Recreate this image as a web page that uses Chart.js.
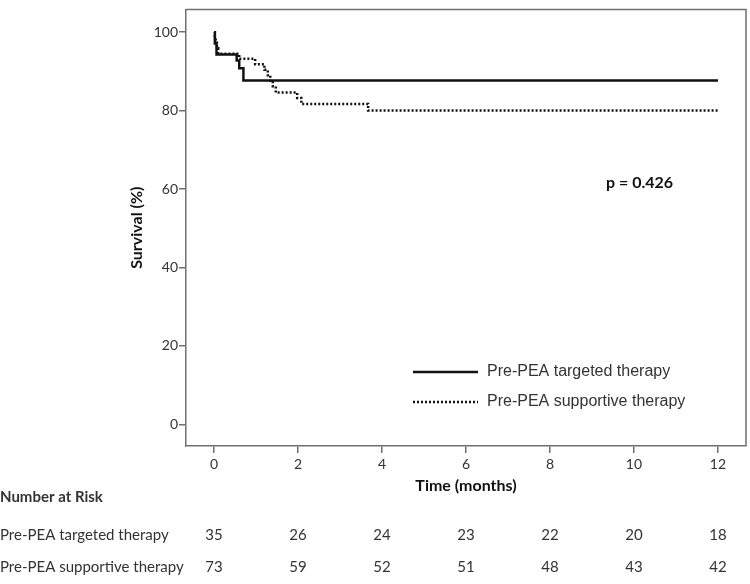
<!DOCTYPE html>
<html>
<head>
<meta charset="utf-8">
<script src="https://cdn.jsdelivr.net/npm/chart.js@4.4.1/dist/chart.umd.min.js"></script>
<style>
  html, body { margin: 0; padding: 0; background: #fff; }
  #wrap { width: 750px; height: 584px; }
</style>
</head>
<body>
<div id="wrap"><canvas id="km"></canvas></div>
<script>
// Kaplan-Meier steps (time in months, survival in %)
const targetedTimes = [0, 0.02, 0.06, 0.54, 0.6, 0.7, 12];
const targetedSurv  = [100, 97.1, 94.3, 92.8, 90.8, 87.7, 87.7];

const supportiveTimes = [0, 0.02, 0.04, 0.07, 0.1, 0.6, 0.98, 1.2, 1.28, 1.34, 1.4, 1.47, 1.98, 2.08, 3.67, 12];
const supportiveSurv  = [100, 98.6, 97.3, 95.9, 94.5, 93.2, 91.8, 90.4, 89.0, 87.6, 86.2, 84.6, 83.2, 81.7, 80.0, 80.0];

const xTicks = [0, 2, 4, 6, 8, 10, 12];
const yTicks = [0, 20, 40, 60, 80, 100];

const riskLabels = ['Pre-PEA targeted therapy', 'Pre-PEA supportive therapy'];
const riskTargeted   = [35, 26, 24, 23, 22, 20, 18];
const riskSupportive = [73, 59, 52, 51, 48, 43, 42];

const pValue = 'p = 0.426';

const toPoints = (xs, ys) => xs.map((x, i) => ({ x: x, y: ys[i] }));

const AXIS_COLOR = '#707070';
const TEXT_COLOR = '#333';
const FONT = 'Lato, "Open Sans", sans-serif';

// frame, legend, p value and the number-at-risk table
const extras = {
  id: 'extras',
  afterDraw(chart) {
    const { ctx, chartArea } = chart;
    const xs = chart.scales.x;
    ctx.save();

    // top and right frame lines
    ctx.strokeStyle = AXIS_COLOR;
    ctx.lineWidth = 1.5;
    ctx.beginPath();
    ctx.moveTo(chartArea.left, chartArea.top);
    ctx.lineTo(chartArea.right, chartArea.top);
    ctx.lineTo(chartArea.right, chartArea.bottom);
    ctx.stroke();

    // legend
    ctx.strokeStyle = '#111';
    ctx.lineWidth = 2.5;
    ctx.setLineDash([]);
    ctx.beginPath();
    ctx.moveTo(413, 372); ctx.lineTo(478, 372);
    ctx.stroke();
    ctx.setLineDash([2, 2]);
    ctx.beginPath();
    ctx.moveTo(413, 402); ctx.lineTo(478, 402);
    ctx.stroke();
    ctx.setLineDash([]);

    ctx.fillStyle = TEXT_COLOR;
    ctx.textBaseline = 'middle';
    ctx.textAlign = 'left';
    ctx.font = '16px "Liberation Sans", Arial, sans-serif';
    ctx.fillText(riskLabels[0], 487, 372);
    ctx.fillText(riskLabels[1], 487, 402);

    // p value
    ctx.fillStyle = '#111';
    ctx.font = 'bold 16px ' + FONT;
    ctx.fillText(pValue, 606, 183);

    // number at risk
    ctx.fillStyle = TEXT_COLOR;
    ctx.font = 'bold 15px ' + FONT;
    ctx.fillText('Number at Risk', 0, 497);
    ctx.font = '15px ' + FONT;
    ctx.fillText(riskLabels[0], 0, 535);
    ctx.fillText(riskLabels[1], 0, 567);
    ctx.textAlign = 'center';
    xTicks.forEach((t, i) => {
      const px = xs.getPixelForValue(t);
      ctx.fillText(String(riskTargeted[i]), px, 535);
      ctx.fillText(String(riskSupportive[i]), px, 567);
    });
    ctx.restore();
  }
};

new Chart(document.getElementById('km'), {
  type: 'line',
  data: {
    datasets: [
      {
        label: riskLabels[0],
        data: toPoints(targetedTimes, targetedSurv),
        borderColor: '#111',
        borderWidth: 2.5,
        stepped: true,
        pointRadius: 0,
        fill: false
      },
      {
        label: riskLabels[1],
        data: toPoints(supportiveTimes, supportiveSurv),
        borderColor: '#111',
        borderWidth: 2.5,
        borderDash: [2, 2],
        stepped: true,
        pointRadius: 0,
        fill: false
      }
    ]
  },
  options: {
    responsive: true,
    maintainAspectRatio: false,
    animation: false,
    layout: { padding: { left: 127, right: 4, top: 4, bottom: 89 } },
    plugins: {
      legend: { display: false },
      tooltip: { enabled: false }
    },
    scales: {
      x: {
        type: 'linear',
        min: -0.667,
        max: 12.667,
        afterBuildTicks(scale) { scale.ticks = xTicks.map(v => ({ value: v })); },
        afterFit(scale) { scale.height = 49; },
        grid: { drawOnChartArea: false, tickLength: 7, color: AXIS_COLOR, lineWidth: 1.5 },
        border: { color: AXIS_COLOR, width: 1.5 },
        ticks: { color: TEXT_COLOR, font: { family: FONT, size: 14 }, padding: 3, maxRotation: 0 },
        title: {
          display: true,
          text: 'Time (months)',
          color: '#111',
          font: { family: FONT, size: 16, weight: 'bold' },
          padding: 0
        }
      },
      y: {
        min: -5.54,
        max: 105.8,
        afterBuildTicks(scale) { scale.ticks = yTicks.map(v => ({ value: v })); },
        afterFit(scale) { scale.width = 59; },
        grid: { drawOnChartArea: false, tickLength: 7, color: AXIS_COLOR, lineWidth: 1.5 },
        border: { color: AXIS_COLOR, width: 1.5 },
        ticks: { color: TEXT_COLOR, font: { family: FONT, size: 14 }, padding: 1 },
        title: {
          display: true,
          text: 'Survival (%)',
          color: '#111',
          font: { family: FONT, size: 16, weight: 'bold' },
          padding: 0
        }
      }
    }
  },
  plugins: [extras]
});
</script>
</body>
</html>
